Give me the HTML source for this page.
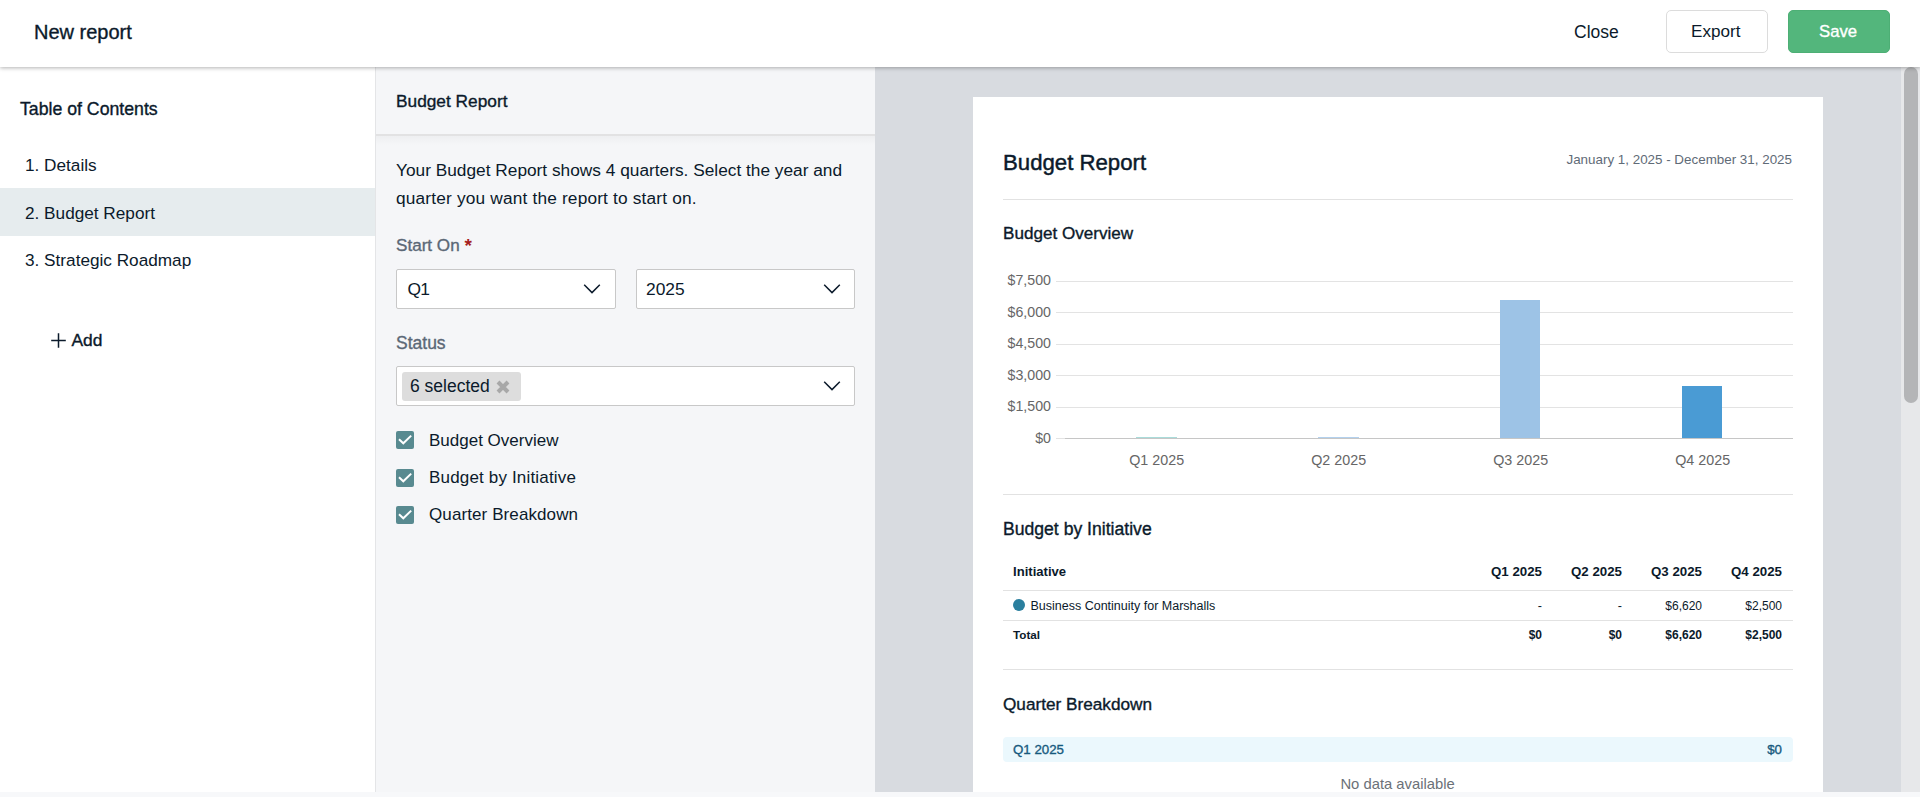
<!DOCTYPE html>
<html>
<head>
<meta charset="utf-8">
<style>
*{box-sizing:border-box;margin:0;padding:0}
html,body{width:1920px;height:797px;overflow:hidden;background:#f7f8fa;font-family:"Liberation Sans",sans-serif;color:#0b1a2b}
.a{position:absolute}
.t{position:absolute;white-space:nowrap;line-height:normal;top:calc(var(--b) - 0.905em)}
.r{text-align:right}
.m{-webkit-text-stroke:0.35px currentColor}
.bd{font-weight:700}
</style>
</head>
<body>

<!-- panels -->
<div class="a" style="left:0;top:67px;width:375px;height:725px;background:#fff"></div>
<div class="a" style="left:375px;top:67px;width:1px;height:725px;background:#e4e5e7"></div>
<div class="a" style="left:376px;top:67px;width:499px;height:725px;background:#f5f6f8"></div>
<div class="a" style="left:376px;top:134px;width:499px;height:2px;background:#e2e2e3"></div>
<div class="a" style="left:376px;top:136px;width:499px;height:9px;background:linear-gradient(#eeeff1,#f5f6f8)"></div>
<div class="a" style="left:875px;top:67px;width:1026px;height:725px;background:#d8dbe0"></div>
<div class="a" style="left:1901px;top:67px;width:19px;height:725px;background:#e7e8ea"></div>
<div class="a" style="left:1904px;top:67px;width:14px;height:336px;border-radius:7px;background:#b4b5b7"></div>

<!-- header -->
<div class="a" style="left:0;top:0;width:1920px;height:67px;background:#fff;box-shadow:0 1px 4px rgba(0,0,0,.3);z-index:5">
  <div class="t m" style="--b:38.75px;left:34px;font-size:20px">New report</div>
  <div class="t" style="--b:37.8px;left:1574px;font-size:17.5px">Close</div>
  <div class="a" style="left:1666px;top:10px;width:102px;height:43px;border:1px solid #dcdcdc;border-radius:5px;background:#fff"></div>
  <div class="t" style="--b:37.2px;left:1691px;font-size:17.1px">Export</div>
  <div class="a" style="left:1788px;top:10px;width:102px;height:43px;border-radius:5px;background:#53b67c;border:1px solid #4daf75"></div>
  <div class="t m" style="--b:37px;left:1819px;font-size:16.7px;color:#fff">Save</div>
</div>

<!-- sidebar -->
<div class="t m" style="--b:114.6px;left:20px;font-size:17.7px">Table of Contents</div>
<div class="t" style="--b:170.7px;left:25px;font-size:17.2px">1. Details</div>
<div class="a" style="left:0;top:188px;width:375px;height:48px;background:#e6ecee"></div>
<div class="t" style="--b:218.3px;left:25px;font-size:17.2px">2. Budget Report</div>
<div class="t" style="--b:265.7px;left:25px;font-size:17.2px">3. Strategic Roadmap</div>
<svg class="a" style="left:50px;top:332px" width="17" height="17" viewBox="0 0 17 17"><path d="M8.5 1.2V15.8M1.2 8.5H15.8" stroke="#0b1a2b" stroke-width="1.5" fill="none"/></svg>
<div class="t m" style="--b:346px;left:71.5px;font-size:17.4px">Add</div>

<!-- middle panel -->
<div class="t m" style="--b:106.7px;left:396px;font-size:17.3px">Budget Report</div>
<div class="t" style="--b:175.7px;left:396px;font-size:17.3px">Your Budget Report shows 4 quarters. Select the year and</div>
<div class="t" style="--b:203.9px;left:396px;font-size:17.3px;letter-spacing:0.17px">quarter you want the report to start on.</div>

<div class="t m" style="--b:251px;left:396px;font-size:17.1px;color:#5b6876">Start On</div>
<div class="t bd" style="--b:252px;left:464.5px;font-size:19px;color:#a51f1f">*</div>

<div class="a" style="left:396px;top:269px;width:220px;height:40px;background:#fff;border:1px solid #c8c8c8;border-radius:2px"></div>
<div class="t" style="--b:295px;left:407.5px;font-size:17.4px;letter-spacing:-0.9px">Q1</div>
<svg class="a" style="left:583px;top:283px" width="18" height="12" viewBox="0 0 18 12"><path d="M1.2 1.8L9 9.6L16.8 1.8" stroke="#0b1a2b" stroke-width="1.5" fill="none"/></svg>

<div class="a" style="left:636px;top:269px;width:219px;height:40px;background:#fff;border:1px solid #c8c8c8;border-radius:2px"></div>
<div class="t" style="--b:294.4px;left:646px;font-size:17.4px">2025</div>
<svg class="a" style="left:823px;top:283px" width="18" height="12" viewBox="0 0 18 12"><path d="M1.2 1.8L9 9.6L16.8 1.8" stroke="#0b1a2b" stroke-width="1.5" fill="none"/></svg>

<div class="t m" style="--b:348.75px;left:396px;font-size:17.5px;color:#5b6876">Status</div>
<div class="a" style="left:396px;top:366px;width:459px;height:40px;background:#fff;border:1px solid #c8c8c8;border-radius:2px"></div>
<div class="a" style="left:402px;top:372px;width:119px;height:29px;background:#dddddd;border-radius:3px"></div>
<div class="t" style="--b:391.9px;left:410px;font-size:17.5px">6 selected</div>
<svg class="a" style="left:494px;top:378px" width="18" height="18" viewBox="0 0 18 18"><path d="M4 4L14 14M14 4L4 14" stroke="#a8a8a8" stroke-width="4" fill="none"/></svg>
<svg class="a" style="left:823px;top:380px" width="18" height="12" viewBox="0 0 18 12"><path d="M1.2 1.8L9 9.6L16.8 1.8" stroke="#0b1a2b" stroke-width="1.5" fill="none"/></svg>

<div class="a" style="left:396px;top:431px;width:18px;height:18px;background:#588a90;border-radius:2px"></div>
<svg class="a" style="left:396px;top:431px" width="18" height="18" viewBox="0 0 18 18"><path d="M3 8.3L7.3 12.3L15.2 4.6" stroke="#fff" stroke-width="2" fill="none"/></svg>
<div class="t" style="--b:445.9px;left:429px;font-size:17px">Budget Overview</div>
<div class="a" style="left:396px;top:469px;width:18px;height:18px;background:#588a90;border-radius:2px"></div>
<svg class="a" style="left:396px;top:469px" width="18" height="18" viewBox="0 0 18 18"><path d="M3 8.3L7.3 12.3L15.2 4.6" stroke="#fff" stroke-width="2" fill="none"/></svg>
<div class="t" style="--b:483.7px;left:429px;font-size:17px;letter-spacing:0.17px">Budget by Initiative</div>
<div class="a" style="left:396px;top:506px;width:18px;height:18px;background:#588a90;border-radius:2px"></div>
<svg class="a" style="left:396px;top:506px" width="18" height="18" viewBox="0 0 18 18"><path d="M3 8.3L7.3 12.3L15.2 4.6" stroke="#fff" stroke-width="2" fill="none"/></svg>
<div class="t" style="--b:520.7px;left:429px;font-size:17px;letter-spacing:0.1px">Quarter Breakdown</div>

<!-- page -->
<div class="a" style="left:973px;top:97px;width:850px;height:695px;background:#fff"></div>
<div class="t m" style="--b:169.7px;left:1003px;font-size:22.2px;-webkit-text-stroke:0.45px currentColor">Budget Report</div>
<div class="t r" style="--b:163.8px;right:128px;font-size:13.4px;color:#5f6b77">January 1, 2025 - December 31, 2025</div>
<div class="a" style="left:1003px;top:199px;width:790px;height:1px;background:#e2e2e2"></div>

<div class="t m" style="--b:239.3px;left:1003px;font-size:17.1px">Budget Overview</div>

<!-- chart -->
<div class="a" style="left:1056px;top:281px;width:737px;height:1px;background:#e3e3e3"></div>
<div class="a" style="left:1056px;top:312px;width:737px;height:1px;background:#e3e3e3"></div>
<div class="a" style="left:1056px;top:344px;width:737px;height:1px;background:#e3e3e3"></div>
<div class="a" style="left:1056px;top:375px;width:737px;height:1px;background:#e3e3e3"></div>
<div class="a" style="left:1056px;top:407px;width:737px;height:1px;background:#e3e3e3"></div>
<div class="a" style="left:1056px;top:438px;width:737px;height:1px;background:#e3e3e3"></div>
<div class="a" style="left:1065px;top:438px;width:728px;height:1px;background:#c6c6c6"></div>
<div class="t r" style="--b:285px;right:869px;font-size:14.2px;color:#666">$7,500</div>
<div class="t r" style="--b:316.5px;right:869px;font-size:14.2px;color:#666">$6,000</div>
<div class="t r" style="--b:348px;right:869px;font-size:14.2px;color:#666">$4,500</div>
<div class="t r" style="--b:379.5px;right:869px;font-size:14.2px;color:#666">$3,000</div>
<div class="t r" style="--b:411px;right:869px;font-size:14.2px;color:#666">$1,500</div>
<div class="t r" style="--b:442.5px;right:869px;font-size:14.2px;color:#666">$0</div>
<div class="a" style="left:1136px;top:437px;width:41px;height:1px;background:#a9dcda"></div>
<div class="a" style="left:1318px;top:437px;width:41px;height:1px;background:#b3d1ee"></div>
<div class="a" style="left:1500px;top:300px;width:40px;height:138px;background:#9dc3e6"></div>
<div class="a" style="left:1682px;top:386px;width:40px;height:52px;background:#4a9bd4"></div>
<div class="t" style="--b:464.8px;left:1106.7px;width:100px;text-align:center;font-size:14.3px;color:#666">Q1 2025</div>
<div class="t" style="--b:464.8px;left:1288.7px;width:100px;text-align:center;font-size:14.3px;color:#666">Q2 2025</div>
<div class="t" style="--b:464.8px;left:1470.7px;width:100px;text-align:center;font-size:14.3px;color:#666">Q3 2025</div>
<div class="t" style="--b:464.8px;left:1652.7px;width:100px;text-align:center;font-size:14.3px;color:#666">Q4 2025</div>
<div class="a" style="left:1003px;top:494px;width:790px;height:1px;background:#e2e2e2"></div>

<!-- budget by initiative -->
<div class="t m" style="--b:535px;left:1003px;font-size:17.6px">Budget by Initiative</div>
<div class="t bd" style="--b:575.8px;left:1013px;font-size:13.1px">Initiative</div>
<div class="t bd r" style="--b:575.8px;right:378px;font-size:13.3px">Q1 2025</div>
<div class="t bd r" style="--b:575.8px;right:298px;font-size:13.3px">Q2 2025</div>
<div class="t bd r" style="--b:575.8px;right:218px;font-size:13.3px">Q3 2025</div>
<div class="t bd r" style="--b:575.8px;right:138px;font-size:13.3px">Q4 2025</div>
<div class="a" style="left:1003px;top:590px;width:790px;height:1px;background:#e2e2e2"></div>
<div class="a" style="left:1013px;top:599px;width:12px;height:12px;border-radius:50%;background:#2a7f9e"></div>
<div class="t" style="--b:610.5px;left:1030.5px;font-size:12.5px">Business Continuity for Marshalls</div>
<div class="t r" style="--b:610px;right:378px;font-size:12.5px">-</div>
<div class="t r" style="--b:610px;right:298px;font-size:12.5px">-</div>
<div class="t r" style="--b:610px;right:218px;font-size:12px">$6,620</div>
<div class="t r" style="--b:610px;right:138px;font-size:12px">$2,500</div>
<div class="a" style="left:1003px;top:620px;width:790px;height:1px;background:#e2e2e2"></div>
<div class="t bd" style="--b:639px;left:1013px;font-size:11.7px">Total</div>
<div class="t bd r" style="--b:639px;right:378px;font-size:12px">$0</div>
<div class="t bd r" style="--b:639px;right:298px;font-size:12px">$0</div>
<div class="t bd r" style="--b:639px;right:218px;font-size:12px">$6,620</div>
<div class="t bd r" style="--b:639px;right:138px;font-size:12px">$2,500</div>
<div class="a" style="left:1003px;top:669px;width:790px;height:1px;background:#e2e2e2"></div>

<!-- quarter breakdown -->
<div class="t m" style="--b:709.9px;left:1003px;font-size:17.2px">Quarter Breakdown</div>
<div class="a" style="left:1003px;top:737px;width:790px;height:25px;border-radius:4px;background:#ebf8fd"></div>
<div class="t m" style="--b:753.7px;left:1013px;font-size:13.3px;color:#175a7e">Q1 2025</div>
<div class="t m r" style="--b:753.7px;right:138px;font-size:13.3px;color:#175a7e">$0</div>
<div class="t" style="--b:788.9px;left:1297.6px;width:200px;text-align:center;font-size:14.8px;color:#6b7178">No data available</div>
<div class="a" style="left:0;top:792px;width:1920px;height:5px;background:#f7f8fa"></div>
</body>
</html>
